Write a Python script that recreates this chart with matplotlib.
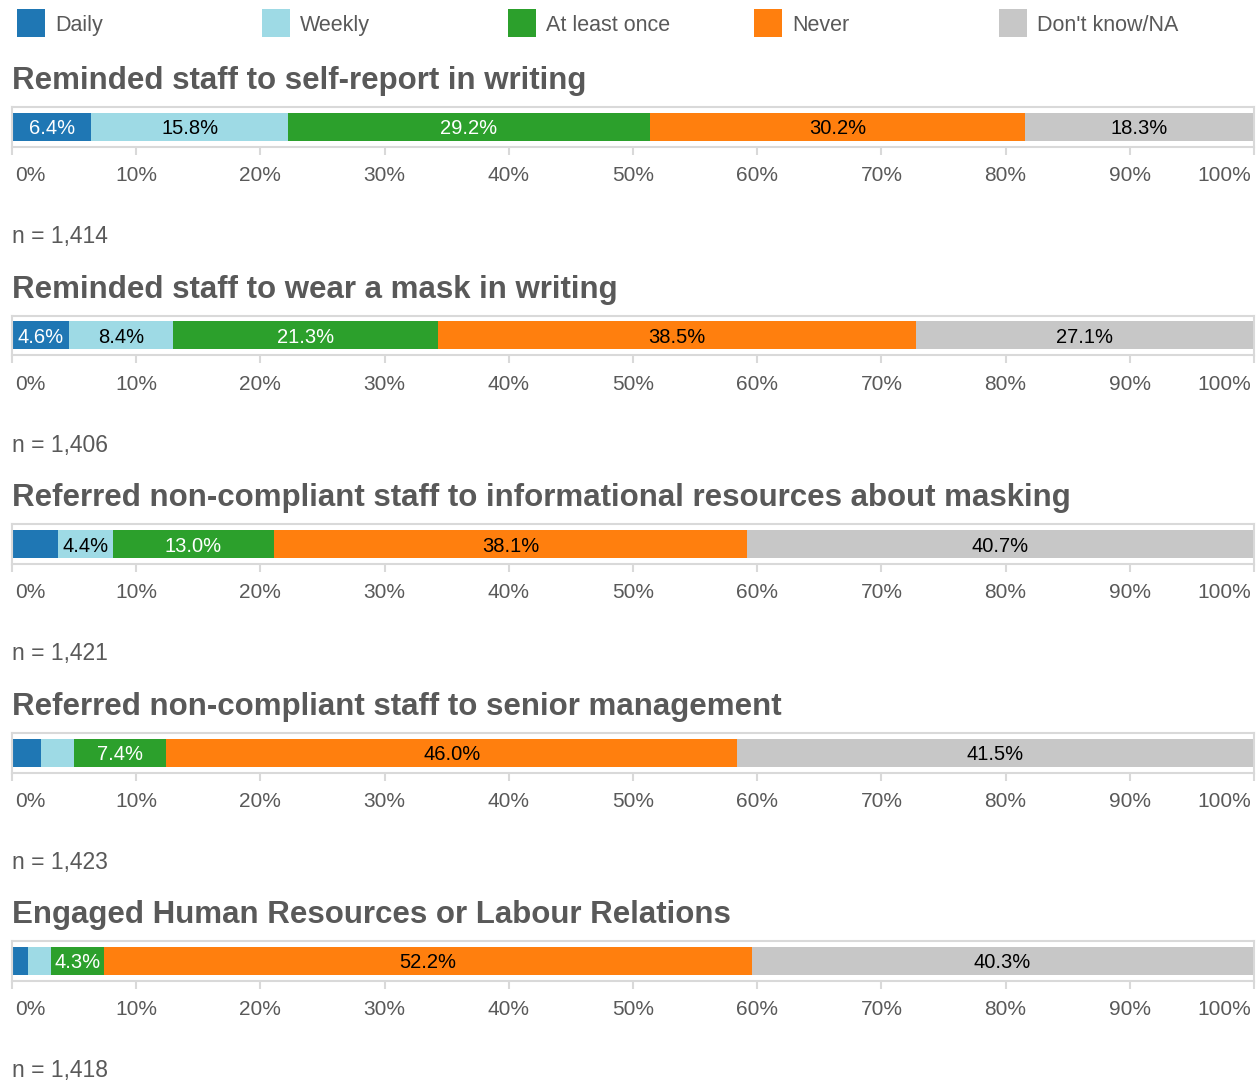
import matplotlib
matplotlib.use('Agg')

import matplotlib.pyplot as plt
import matplotlib.patches as mpatches
import matplotlib.transforms as mtransforms
import numpy as np

plt.rcParams['font.family'] = ['Liberation Sans', 'DejaVu Sans']

categories = ['Daily', 'Weekly', 'At least once', 'Never', "Don't know/NA"]
colors = ['#1f77b4', '#9edae5', '#2ca02c', '#ff7f0e', '#c7c7c7']
text_colors = ['white', 'black', 'white', 'black', 'black']

questions = ['Reminded staff to self-report in writing',
             'Reminded staff to wear a mask in writing',
             'Referred non-compliant staff to informational resources about masking',
             'Referred non-compliant staff to senior management',
             'Engaged Human Resources or Labour Relations']
n_values = [1414, 1406, 1421, 1423, 1418]

daily = [6.4, 4.6, 3.7, 2.3, 1.3]
weekly = [15.8, 8.4, 4.4, 2.7, 1.8]
once = [29.2, 21.3, 13.0, 7.4, 4.3]
never = [30.2, 38.5, 38.1, 46.0, 52.2]
dont_know = [18.3, 27.1, 40.7, 41.5, 40.3]

series = [daily, weekly, once, never, dont_know]

W, H = 1260, 1080
fig = plt.figure(figsize=(W / 100, H / 100), dpi=100)

grey = '#595959'
frame = '#d9d9d9'

def px(x, y):
    # pixel position (from top left) to figure fraction
    return x / W, 1 - y / H

# legend across the top
leg_x = [17, 262, 508, 754, 999]
for i, cat in enumerate(categories):
    x0, y0 = px(leg_x[i], 37)
    fig.patches.append(mpatches.Rectangle((x0, y0), 28 / W, 28 / H, transform=fig.transFigure,
                                          facecolor=colors[i], edgecolor='none'))
    tx, ty = px(leg_x[i] + 38, 31)
    fig.text(tx, ty, cat, fontsize=15.5, color=grey, va='baseline', ha='left')

step = 208.5
for q in range(len(questions)):
    off = q * step
    tx, ty = px(12, 89 + off)
    fig.text(tx, ty, questions[q], fontsize=22.5, fontweight='bold', color=grey, va='baseline')
    nx, ny = px(12, 243 + off)
    fig.text(nx, ny, 'n = {:,}'.format(n_values[q]), fontsize=16.5, color=grey, va='baseline')

    left, bottom = px(12, 147 + off)
    ax = fig.add_axes([left, bottom, (1254 - 12) / W, 40 / H])
    ax.set_xlim(0, 100)
    ax.set_ylim(0, 1)

    start = 0
    for s in range(len(series)):
        v = series[s][q]
        ax.barh(0.5, v, left=start, height=0.7, color=colors[s], edgecolor='none')
        if v >= 4:
            ax.text(start + v / 2, 0.5, '{:.1f}%'.format(v), ha='center', va='center_baseline',
                    fontsize=14.5, color=text_colors[s])
        start += v

    for sp in ax.spines.values():
        sp.set_color(frame)
        sp.set_linewidth(1.5)
    ax.set_yticks([])
    ticks = np.arange(0, 101, 10)
    ax.set_xticks(ticks)
    ax.set_xticklabels(['{}%'.format(t) for t in ticks])
    ax.tick_params(axis='x', length=6, width=1.5, color=frame, labelcolor=grey,
                   labelsize=15, pad=8)
    labels = ax.get_xticklabels()
    labels[0].set_ha('left')
    labels[0].set_transform(labels[0].get_transform() +
                            mtransforms.ScaledTranslation(3 / 100, 0, fig.dpi_scale_trans))
    labels[-1].set_ha('right')
    labels[-1].set_transform(labels[-1].get_transform() +
                             mtransforms.ScaledTranslation(-3 / 100, 0, fig.dpi_scale_trans))

plt.savefig('out.png', dpi=100)
